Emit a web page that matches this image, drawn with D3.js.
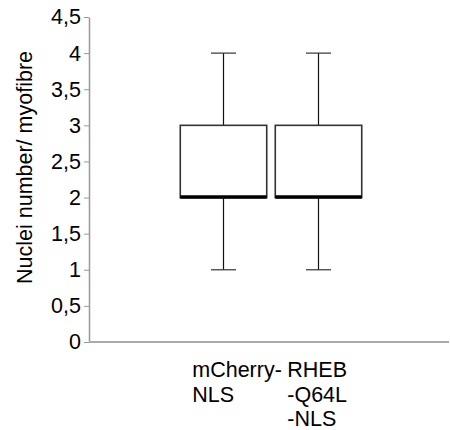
<!DOCTYPE html>
<html>
<head>
<meta charset="utf-8">
<title>Nuclei per myofibre</title>
<style>
  body { margin: 0; background: #fff; }
  text { font-family: "Liberation Sans", Arial, sans-serif; fill: #000; }
</style>
</head>
<body>
<svg id="viz" width="450" height="430"></svg>
<script src="https://cdn.jsdelivr.net/npm/d3@7"></script>
<script>
// data
var groups = ["mCherry-NLS", "RHEB-Q64L-NLS"];
var groupLines = [["mCherry-", "NLS"], ["RHEB", "-Q64L", "-NLS"]];
var mins    = [1, 1];
var q1s     = [2, 2];
var medians = [2, 2];
var q3s     = [3, 3];
var maxs    = [4, 4];
var yTicks  = [0, 0.5, 1, 1.5, 2, 2.5, 3, 3.5, 4, 4.5];

var svg = d3.select("#viz");
var axisLeft = 89, axisRight = 449, axisBottom = 342, axisTop = 17;

var y = d3.scaleLinear().domain([0, 4.5]).range([axisBottom, axisTop]);
var x = d3.scaleBand().domain(groups).range([176, 366]).paddingInner(0.09).paddingOuter(0.045);

var fmt = function(d) { return String(d).replace(".", ","); };

// y axis
var yAxis = svg.append("g")
    .attr("transform", "translate(" + axisLeft + ",0)")
    .call(d3.axisLeft(y).tickValues(yTicks).tickFormat(fmt).tickSize(5).tickSizeOuter(0).tickPadding(3));
yAxis.select(".domain").attr("stroke", "#999").attr("stroke-width", 1.5);
yAxis.selectAll(".tick line").attr("stroke", "#999").attr("stroke-width", 1);
yAxis.selectAll(".tick text").style("font-size", "21.5px").attr("fill", "#000")
    .attr("font-family", "'Liberation Sans', Arial, sans-serif");

// x axis line
svg.append("line")
    .attr("x1", axisLeft).attr("x2", axisRight)
    .attr("y1", axisBottom).attr("y2", axisBottom)
    .attr("stroke", "#aaa").attr("stroke-width", 2);

// y title
svg.append("text")
    .attr("transform", "translate(32," + ((axisTop + axisBottom) / 2 - 12) + ") rotate(-90)")
    .attr("text-anchor", "middle")
    .style("font-size", "21.5px")
    .text("Nuclei number/ myofibre");

// boxes
var box = svg.append("g").selectAll("g")
    .data(groups)
    .enter().append("g");

box.each(function(g, i) {
    var sel = d3.select(this);
    var cx = x(g) + x.bandwidth() / 2;
    var capW = 25;
    // whiskers
    sel.append("line")
        .attr("x1", cx).attr("x2", cx)
        .attr("y1", y(maxs[i])).attr("y2", y(q3s[i]))
        .attr("stroke", "#111").attr("stroke-width", 1.2);
    sel.append("line")
        .attr("x1", cx).attr("x2", cx)
        .attr("y1", y(q1s[i])).attr("y2", y(mins[i]))
        .attr("stroke", "#111").attr("stroke-width", 1.2);
    [maxs[i], mins[i]].forEach(function(v) {
        sel.append("line")
            .attr("x1", cx - capW / 2).attr("x2", cx + capW / 2)
            .attr("y1", y(v)).attr("y2", y(v))
            .attr("stroke", "#333").attr("stroke-width", 1.2);
    });
    sel.append("rect")
        .attr("x", x(g)).attr("width", x.bandwidth())
        .attr("y", y(q3s[i])).attr("height", y(q1s[i]) - y(q3s[i]))
        .attr("fill", "#fff").attr("stroke", "#333").attr("stroke-width", 1.6);
    sel.append("line")
        .attr("x1", x(g)).attr("x2", x(g) + x.bandwidth())
        .attr("y1", y(medians[i]) - 0.5).attr("y2", y(medians[i]) - 0.5)
        .attr("stroke", "#000").attr("stroke-width", 3.5);
});

// category labels
svg.append("g").selectAll("text")
    .data(groups)
    .enter().append("text")
    .attr("x", function(g) { return x(g) + 12; })
    .attr("y", 377)
    .style("font-size", "21.5px")
    .each(function(g, i) {
        var t = d3.select(this);
        groupLines[i].forEach(function(line, j) {
            t.append("tspan")
                .attr("x", x(g) + 12)
                .attr("y", 377 + j * 24.5)
                .text(line);
        });
    });
</script>
</body>
</html>
